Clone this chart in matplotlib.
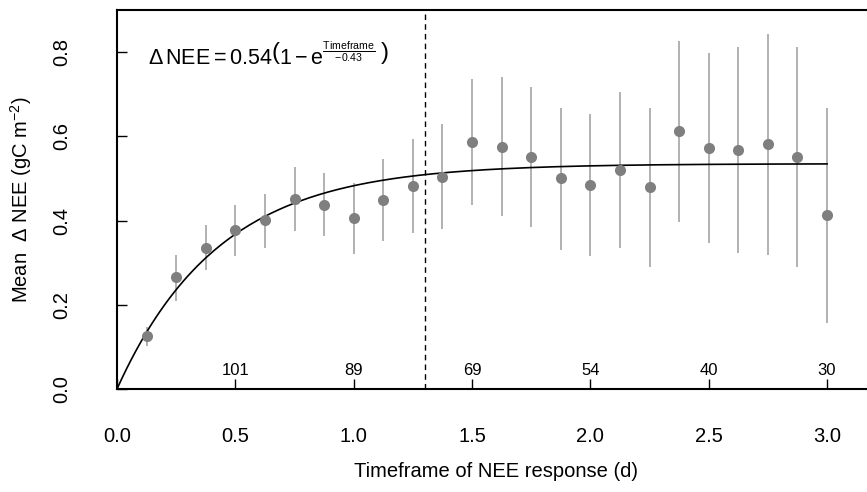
import numpy as np
import matplotlib
matplotlib.use("Agg")
import matplotlib.pyplot as plt

plt.rcParams["font.family"] = ["Liberation Sans", "DejaVu Sans"]
plt.rcParams["mathtext.fontset"] = "custom"
plt.rcParams["mathtext.rm"] = "Liberation Sans"
plt.rcParams["mathtext.it"] = "Liberation Sans"
plt.rcParams["mathtext.bf"] = "Liberation Sans:bold"

# ---------------- DATA ----------------
timeframe = [0.125, 0.25, 0.375, 0.5, 0.625, 0.75, 0.875, 1.0, 1.125, 1.25,
             1.375, 1.5, 1.625, 1.75, 1.875, 2.0, 2.125, 2.25, 2.375, 2.5,
             2.625, 2.75, 2.875, 3.0]
mean_nee = [0.126, 0.265, 0.335, 0.378, 0.401, 0.452, 0.438, 0.406, 0.449, 0.482,
            0.504, 0.587, 0.575, 0.552, 0.500, 0.484, 0.521, 0.479, 0.613, 0.572,
            0.567, 0.581, 0.550, 0.413]
upper = [0.148, 0.319, 0.389, 0.436, 0.464, 0.527, 0.514, 0.490, 0.547, 0.594,
         0.629, 0.737, 0.740, 0.718, 0.667, 0.652, 0.706, 0.667, 0.827, 0.799,
         0.811, 0.843, 0.812, 0.668]
lower = [0.101, 0.210, 0.282, 0.317, 0.336, 0.376, 0.363, 0.321, 0.351, 0.371,
         0.380, 0.436, 0.412, 0.384, 0.331, 0.317, 0.336, 0.290, 0.396, 0.346,
         0.322, 0.319, 0.289, 0.156]

count_x = [0.5, 1.0, 1.5, 2.0, 2.5, 3.0]
count_labels = ["101", "89", "69", "54", "40", "30"]

fit_a = 0.535
fit_tau = 0.43
cutoff = 1.3
# --------------------------------------

fig = plt.figure(figsize=(8.67, 4.92), dpi=100)
ax = fig.add_axes([117 / 867, 103 / 492, 757.4 / 867, 379 / 492])

# error bars
ax.vlines(timeframe, lower, upper, color="#ababab", lw=1.3, zorder=1)
ax.plot(timeframe, mean_nee, "o", color="#7f7f7f", ms=8, mec="none", zorder=3)

# fitted curve
xs = np.linspace(0, max(timeframe), 300)
ax.plot(xs, fit_a * (1 - np.exp(-xs / fit_tau)), color="black", lw=1.2, zorder=2)

ax.axvline(cutoff, color="black", lw=1.0, ls=(0, (4, 3)), zorder=2)

for x, lab in zip(count_x, count_labels):
    ax.text(x, 0.045, lab, ha="center", va="center", fontsize=12)

ax.text(0.13, 0.79,
        r"$\Delta\,\mathrm{NEE} = 0.54\left(1 - \mathrm{e}^{\frac{\mathrm{Timeframe}}{-0.43}}\;\right)$",
        ha="left", va="center", fontsize=15.5)

ax.set_xlim(0, 3.2)
ax.set_ylim(0, 0.9)
ax.set_xticks([0.0, 0.5, 1.0, 1.5, 2.0, 2.5, 3.0])
ax.set_xticklabels(["0.0", "0.5", "1.0", "1.5", "2.0", "2.5", "3.0"])
ax.set_yticks([0.0, 0.2, 0.4, 0.6, 0.8])
ax.set_yticklabels(["0.0", "0.2", "0.4", "0.6", "0.8"], rotation=90, va="center")

ax.tick_params(axis="x", direction="in", length=7, width=1.0, pad=27, labelsize=14.5)
ax.tick_params(axis="y", direction="in", length=7, width=1.0, pad=33, labelsize=14.5)

ax.spines["right"].set_visible(False)
for s in ["left", "top", "bottom"]:
    ax.spines[s].set_linewidth(1.5)

ax.set_xlabel("Timeframe of NEE response (d)", fontsize=14.5, labelpad=12)
ax.set_ylabel(r"Mean  $\Delta$ NEE (gC m$^{-2}$)", fontsize=14.5, labelpad=13)

fig.savefig("out.png", dpi=100)
